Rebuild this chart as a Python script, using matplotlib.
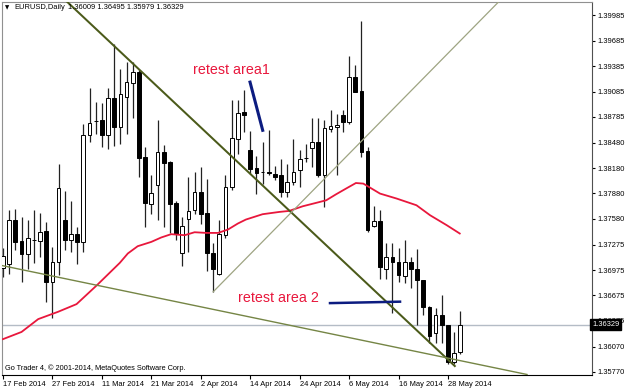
import matplotlib
matplotlib.use('Agg')
import numpy as np
import matplotlib.pyplot as plt

plt.rcParams['font.family'] = ['Liberation Sans', 'DejaVu Sans']

# EURUSD daily bars, 17 Feb 2014 .. 30 May 2014 (bar index 0..74)
opens = [1.36997, 1.37041, 1.37564, 1.37319, 1.37162, 1.37330, 1.37319, 1.37437, 1.36835, 1.37076,
         1.37564, 1.37328, 1.37407, 1.37308, 1.38576, 1.38735, 1.38745, 1.38568, 1.39013, 1.38666,
         1.39020, 1.39185, 1.39315, 1.38311, 1.37761, 1.37985, 1.38370, 1.38252, 1.37768, 1.37171,
         1.37584, 1.37682, 1.37898, 1.37650, 1.37171, 1.36934, 1.37387, 1.37957, 1.38529, 1.38839,
         1.38399, 1.38186, 1.38133, 1.38139, 1.38115, 1.38095, 1.37898, 1.38016, 1.38154, 1.38298,
         1.38418, 1.38489, 1.38095, 1.38642, 1.38666, 1.38804, 1.38725, 1.39256, 1.39091, 1.38382,
         1.37493, 1.37556, 1.36993, 1.37130, 1.37071, 1.36902, 1.37071, 1.36993, 1.36855, 1.36540,
         1.36226, 1.36442, 1.36324, 1.35890, 1.36009]
highs = [1.37233, 1.37690, 1.37694, 1.37603, 1.37572, 1.37690, 1.37650, 1.37548, 1.37249, 1.38225,
         1.37906, 1.37796, 1.37478, 1.38706, 1.39131, 1.38957, 1.38949, 1.39131, 1.39651, 1.39355,
         1.39433, 1.39433, 1.39335, 1.38430, 1.38095, 1.38745, 1.38450, 1.38261, 1.37788, 1.37603,
         1.38075, 1.38134, 1.38193, 1.38056, 1.37289, 1.37564, 1.38095, 1.38981, 1.38989, 1.39107,
         1.38618, 1.38320, 1.38489, 1.38627, 1.38205, 1.38293, 1.38233, 1.38529, 1.38391, 1.38470,
         1.38772, 1.38777, 1.38753, 1.38871, 1.38816, 1.38863, 1.39501, 1.39394, 1.39918, 1.38430,
         1.37729, 1.37690, 1.37289, 1.37296, 1.37230, 1.37328, 1.37130, 1.37218, 1.36860, 1.36545,
         1.36521, 1.36678, 1.36330, 1.36245, 1.36495]
lows = [1.36891, 1.36926, 1.37210, 1.36835, 1.36993, 1.37060, 1.37130, 1.36599, 1.36403, 1.36914,
        1.37210, 1.37189, 1.37052, 1.37189, 1.38489, 1.38588, 1.38430, 1.38411, 1.38438, 1.38461,
        1.38588, 1.38777, 1.38075, 1.37481, 1.37641, 1.37564, 1.37478, 1.37410, 1.37328, 1.37021,
        1.37189, 1.37643, 1.37517, 1.36965, 1.36717, 1.36914, 1.37348, 1.37918, 1.38352, 1.38607,
        1.38115, 1.37879, 1.37997, 1.38095, 1.38036, 1.37839, 1.37839, 1.37977, 1.37957, 1.38252,
        1.38193, 1.38075, 1.37721, 1.38607, 1.38095, 1.38607, 1.38698, 1.39075, 1.38311, 1.37426,
        1.37485, 1.36875, 1.36875, 1.36462, 1.36835, 1.36816, 1.36757, 1.36324, 1.36442, 1.36108,
        1.36108, 1.36108, 1.35863, 1.35863, 1.35979]
closes = [1.37139, 1.37572, 1.37308, 1.37162, 1.37348, 1.37326, 1.37430, 1.36835, 1.37076, 1.37950,
          1.37328, 1.37407, 1.37308, 1.38576, 1.38713, 1.38739, 1.38568, 1.39013, 1.38666, 1.39060,
          1.39197, 1.39315, 1.38304, 1.37768, 1.37891, 1.38370, 1.38240, 1.37761, 1.37399, 1.37493,
          1.37674, 1.37898, 1.37643, 1.37171, 1.36993, 1.37399, 1.37957, 1.38540, 1.38831, 1.38807,
          1.38174, 1.38122, 1.38129, 1.38125, 1.38075, 1.37898, 1.38016, 1.38134, 1.38293, 1.38302,
          1.38489, 1.38095, 1.38659, 1.38674, 1.38694, 1.38725, 1.39256, 1.39079, 1.38370, 1.37446,
          1.37556, 1.37012, 1.37130, 1.37071, 1.36914, 1.37071, 1.36993, 1.36855, 1.36540, 1.36194,
          1.36442, 1.36324, 1.35890, 1.35997, 1.36329]

# moving average (red), read at bar positions
ma_bars = [0, 3, 5.7, 8.9, 11.9, 15.2, 18.9, 20.2, 21.8, 24, 25.6, 27.2, 29.4, 31, 32.9, 34.8,
           36.4, 38, 39.3, 42, 44.7, 46.3, 48.5, 50.6, 52.3, 53.9, 55.5, 57.1, 58.3, 61, 63.7,
           66.9, 69.1, 71.8, 73.9]
ma_prices = [1.36158, 1.36243, 1.36395, 1.36481, 1.36572, 1.36796, 1.37060, 1.37171, 1.37257,
             1.37308, 1.37360, 1.37399, 1.37387, 1.37422, 1.37414, 1.37414, 1.37454, 1.37525,
             1.37572, 1.37635, 1.37662, 1.37674, 1.37729, 1.37768, 1.37800, 1.37871, 1.37938,
             1.38004, 1.37997, 1.37879, 1.37820, 1.37741, 1.37623, 1.37505, 1.37407]

# trend lines (bar index, price)
falling_bars = [10.15, 73.1]
falling_prices = [1.40162, 1.35840]
rising_bars = [34.0, 82.0]
rising_prices = [1.36717, 1.40280]
lower_bars = [-0.49, 83.93]
lower_prices = [1.37033, 1.35753]
retest1_bars = [39.97, 42.02]
retest1_prices = [1.39197, 1.38627]
retest2_bars = [52.91, 64.24]
retest2_prices = [1.36584, 1.36601]

last_price = 1.36329

date_bars = [0, 8, 16, 24, 32, 40, 48, 56, 64, 72]
date_labels = ['17 Feb 2014', '27 Feb 2014', '11 Mar 2014', '21 Mar 2014', '2 Apr 2014',
               '14 Apr 2014', '24 Apr 2014', '6 May 2014', '16 May 2014', '28 May 2014']
price_ticks = [1.39985, 1.39685, 1.39385, 1.39085, 1.38785, 1.38480, 1.38180, 1.37880,
               1.37580, 1.37275, 1.36975, 1.36675, 1.36375, 1.36070, 1.35770]

o = np.array(opens)
h = np.array(highs)
l = np.array(lows)
c = np.array(closes)
x = np.arange(len(o))

fig = plt.figure(figsize=(6.25, 3.89), dpi=100)
fig.patch.set_facecolor('white')
ax = fig.add_axes([2 / 625, 1 - 374.5 / 389, 590 / 625, 373 / 389])
ax.set_xlim(-0.16, 95.3)
ax.set_ylim(1.35740, 1.40150)

# candles
ax.vlines(x, l, h, color='#222222', lw=0.9, zorder=2)
up = c >= o
bottom = np.minimum(o, c)
height = np.maximum(np.abs(c - o), 0.000005)
ax.bar(x, height, bottom=bottom, width=0.6, color=np.where(up, 'white', 'black'),
       edgecolor='black', lw=0.7, zorder=3)

# last price line
ax.axhline(last_price, color='#b4bcc6', lw=1, zorder=1)

# moving average
ax.plot(ma_bars, ma_prices, color='#e8173c', lw=1.3, zorder=4)

# trend lines
ax.plot(falling_bars, falling_prices, color='#4b5a1a', lw=1.45, zorder=5)
ax.plot(rising_bars, rising_prices, color='#9ea482', lw=0.9, zorder=5)
ax.axline((lower_bars[0], lower_prices[0]), (lower_bars[1], lower_prices[1]),
          color='#758545', lw=1.0, zorder=5)
ax.plot(retest1_bars, retest1_prices, color='#0c1c80', lw=2.2, zorder=5)
ax.plot(retest2_bars, retest2_prices, color='#0c1c80', lw=1.8, zorder=5)

ax.text(30.74, 1.39341, 'retest area1', color='#e8173c', fontsize=10.3, va='center', zorder=6)
ax.text(38.03, 1.36643, 'retest area 2', color='#e8173c', fontsize=10.3, va='center', zorder=6)

# axes styling
for side in ['left', 'top']:
    ax.spines[side].set_color('#909090')
ax.spines['right'].set_color('#505050')
ax.spines['bottom'].set_color('black')

ax.yaxis.tick_right()
ax.set_yticks(price_ticks)
ax.set_yticklabels(['%.5f' % p for p in price_ticks])
ax.tick_params(axis='y', direction='out', length=2, width=0.8, pad=2, labelsize=5.4, colors='black')

ax.set_xticks(date_bars)
ax.set_xticklabels(date_labels)
for t in ax.get_xticklabels():
    t.set_horizontalalignment('left')
ax.tick_params(axis='x', direction='out', length=3, width=0.8, pad=2, labelsize=5.4)

ax.text(1.0, last_price, '1.36329', transform=ax.get_yaxis_transform(), color='white',
        fontsize=5.4, va='center', ha='left', zorder=10, clip_on=False,
        bbox=dict(boxstyle='square,pad=0.25', facecolor='black', edgecolor='black'))

# header and copyright
fig.text(5 / 625, 1 - 7.5 / 389, '\u25bc', fontsize=4, family='DejaVu Sans', va='center')
fig.text(14 / 625, 1 - 7.5 / 389, 'EURUSD,Daily', fontsize=5.4, va='center')
fig.text(68 / 625, 1 - 7.5 / 389, '1.36009 1.36495 1.35979 1.36329', fontsize=5.4, va='center')
fig.text(5 / 625, 1 - 368.5 / 389, 'Go Trader 4, \u00a9 2001-2014, MetaQuotes Software Corp.',
         fontsize=5.3, va='center')

fig.savefig('out.png', dpi=100)
